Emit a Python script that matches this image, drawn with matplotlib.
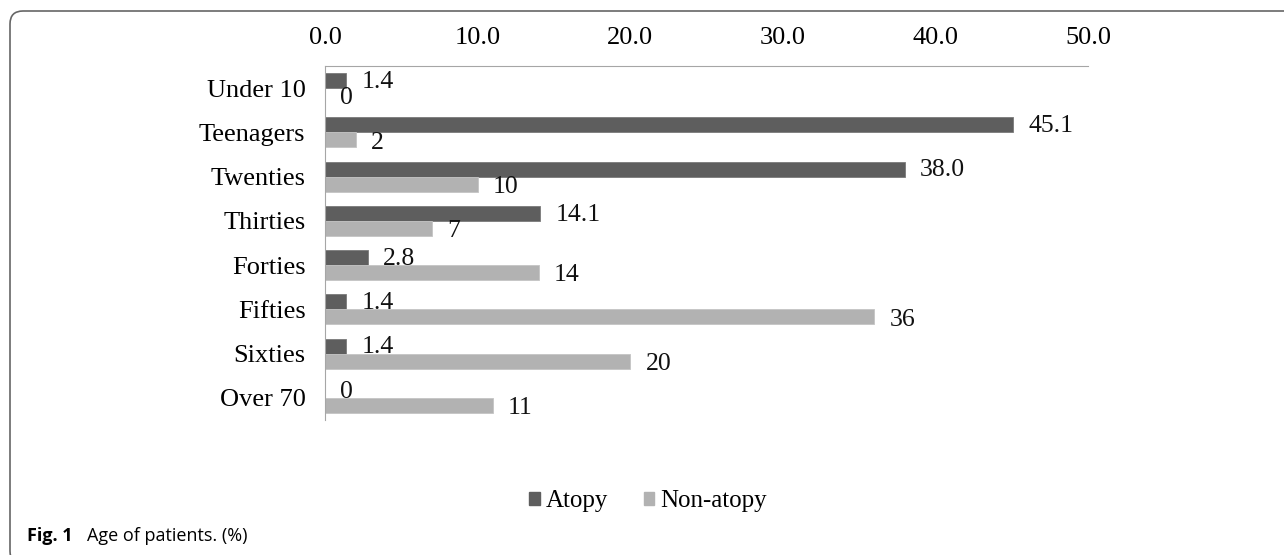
import matplotlib
matplotlib.use("Agg")
import matplotlib.pyplot as plt
from matplotlib.patches import FancyBboxPatch, Patch
import numpy as np

categories = ["Under 10", "Teenagers", "Twenties", "Thirties", "Forties", "Fifties", "Sixties", "Over 70"]
atopy = [1.4, 45.1, 38.0, 14.1, 2.8, 1.4, 1.4, 0]
non_atopy = [0, 2, 10, 7, 14, 36, 20, 11]
atopy_labels = ["1.4", "45.1", "38.0", "14.1", "2.8", "1.4", "1.4", "0"]
non_atopy_labels = ["0", "2", "10", "7", "14", "36", "20", "11"]
xticks = [0, 10, 20, 30, 40, 50]
xtick_labels = ["0.0", "10.0", "20.0", "30.0", "40.0", "50.0"]

serif = ["Liberation Serif", "DejaVu Serif"]
cap_font = ["Open Sans", "DejaVu Sans"]
fig = plt.figure(figsize=(12.84, 5.55), dpi=100)
fig.patch.set_facecolor("white")

# rounded frame (inches coordinates); bottom and right edges run off the canvas
frame = FancyBboxPatch((0.10, -0.09), 13.5, 5.53,
                       boxstyle="round,pad=0,rounding_size=0.13",
                       transform=fig.dpi_scale_trans, fill=False,
                       edgecolor="#666666", linewidth=1.2)
fig.patches.append(frame)

ax = fig.add_axes([325/1284, 1-420/555, (1088-325)/1284, (420-66)/555])
y = np.arange(len(categories))
h = 0.34
dark = "#5e5e5e"
light = "#b2b2b2"
ax.barh(y - h/2, atopy, height=h, color=dark, edgecolor="#7a7a7a", linewidth=0.6)
ax.barh(y + h/2, non_atopy, height=h, color=light, edgecolor="#c4c4c4", linewidth=0.6)

for yi, v, lab in zip(y, atopy, atopy_labels):
    ax.annotate(lab, (v, yi - h/2), xytext=(11, -1), textcoords="offset points",
                ha="left", va="center", fontsize=18.5, family=serif, color="#111111")
for yi, v, lab in zip(y, non_atopy, non_atopy_labels):
    ax.annotate(lab, (v, yi + h/2), xytext=(11, -2), textcoords="offset points",
                ha="left", va="center", fontsize=18.5, family=serif, color="#111111")

ax.set_xlim(0, 50)
ax.set_ylim(len(categories) - 0.5, -0.5)
ax.set_yticks(y)
ax.set_yticklabels(categories, fontsize=19, family=serif)
ax.xaxis.tick_top()
ax.set_xticks(xticks)
ax.set_xticklabels(xtick_labels, fontsize=19, family=serif)
ax.tick_params(axis="both", length=0)
ax.tick_params(axis="x", pad=12)
ax.tick_params(axis="y", pad=14)
for s in ["right", "bottom"]:
    ax.spines[s].set_visible(False)
ax.spines["top"].set_color("#a6a6a6")
ax.spines["left"].set_color("#a6a6a6")

# legend
handles = [Patch(facecolor=dark, edgecolor=dark), Patch(facecolor=light, edgecolor=light)]
fig.legend(handles, ["Atopy", "Non-atopy"], loc="center", bbox_to_anchor=(648/1284, 1-501/555),
           ncol=2, frameon=False, prop={"family": serif, "size": 18},
           handlelength=0.42, handleheight=0.42, handletextpad=0.22, columnspacing=1.45)

fig.text(27/1284, 1-536/555, "Fig. 1", fontsize=13, fontweight="bold", family=cap_font,
         va="center", ha="left")
fig.text(87/1284, 1-536/555, "Age of patients. (%)", fontsize=13, family=cap_font,
         va="center", ha="left")

fig.savefig("out.png", dpi=100)
